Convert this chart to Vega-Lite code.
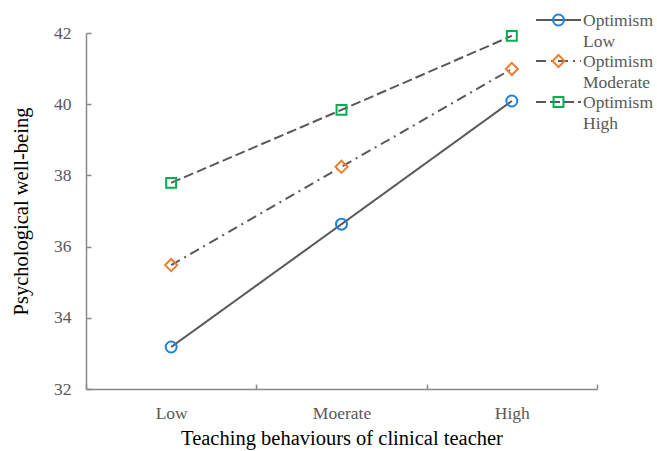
{
  "$schema": "https://vega.github.io/schema/vega-lite/v6.json",
  "width": 511,
  "height": 356,
  "autosize": {"type": "none"},
  "padding": {"left": 86, "top": 33, "right": 60, "bottom": 62},
  "config": {
    "view": {"stroke": null},
    "font": "Liberation Serif",
    "legend": {
      "orient": "none",
      "legendX": 449,
      "legendY": -23,
      "title": null,
      "padding": 0,
      "symbolSize": 2025,
      "symbolStrokeWidth": 2,
      "labelFont": "Liberation Serif",
      "labelFontSize": 17.5,
      "labelOffset": 1,
      "labelBaseline": "top",
      "rowPadding": 0,
      "clipHeight": 20,
      "labelLimit": 400
    }
  },
  "data": {
    "values": [
      {"teach": "Low", "opt": "Optimism Low", "value": 33.18},
      {"teach": "Moerate", "opt": "Optimism Low", "value": 36.63},
      {"teach": "High", "opt": "Optimism Low", "value": 40.09},
      {"teach": "Low", "opt": "Optimism Moderate", "value": 35.48},
      {"teach": "Moerate", "opt": "Optimism Moderate", "value": 38.24},
      {"teach": "High", "opt": "Optimism Moderate", "value": 40.99},
      {"teach": "Low", "opt": "Optimism High", "value": 37.79},
      {"teach": "Moerate", "opt": "Optimism High", "value": 39.84},
      {"teach": "High", "opt": "Optimism High", "value": 41.92}
    ]
  },
  "encoding": {
    "x": {
      "field": "teach",
      "type": "nominal",
      "sort": ["Low", "Moerate", "High"],
      "scale": {"type": "band", "paddingInner": 0, "paddingOuter": 0},
      "axis": {
        "title": "Teaching behaviours of clinical teacher",
        "labelAngle": 0,
        "tickBand": "extent",
        "tickSize": -5,
        "tickColor": "#898989",
        "tickWidth": 1.5,
        "domainColor": "#898989",
        "domainWidth": 1.5,
        "labelPadding": 20,
        "labelFont": "Liberation Serif",
        "labelFontSize": 17.5,
        "labelColor": "#595959",
        "titleFont": "Liberation Serif",
        "titleFontSize": 20.5,
        "titleFontWeight": "normal",
        "titleColor": "#000000",
        "titlePadding": 7
      }
    },
    "y": {
      "field": "value",
      "type": "quantitative",
      "scale": {"domain": [32, 42], "nice": false, "zero": false},
      "axis": {
        "title": "Psychological well-being",
        "values": [32, 34, 36, 38, 40, 42],
        "grid": false,
        "tickSize": -5,
        "tickColor": "#898989",
        "tickWidth": 1.5,
        "domainColor": "#898989",
        "domainWidth": 1.5,
        "labelPadding": 20,
        "labelFont": "Liberation Serif",
        "labelFontSize": 17.5,
        "labelColor": "#595959",
        "titleFont": "Liberation Serif",
        "titleFontSize": 20.5,
        "titleFontWeight": "normal",
        "titleColor": "#000000",
        "titlePadding": 22
      }
    }
  },
  "layer": [
    {
      "mark": {"type": "line", "color": "#595959", "strokeWidth": 2},
      "encoding": {
        "strokeDash": {
          "field": "opt",
          "type": "nominal",
          "sort": ["Optimism Low", "Optimism Moderate", "Optimism High"],
          "scale": {"range": [[1, 0], [10, 5, 2, 5], [10, 4]]},
          "legend": {
            "symbolType": "stroke",
            "symbolStrokeColor": "#595959",
            "labelExpr": "split(datum.label, ' ')",
            "labelColor": "#595959",
            "encode": {
              "labels": {"update": {"dy": {"value": -8}, "lineHeight": {"value": 21}}}
            }
          }
        }
      }
    },
    {
      "mark": {"type": "point", "filled": false, "strokeWidth": 2, "opacity": 1, "size": 2025},
      "encoding": {
        "color": {
          "field": "opt",
          "type": "nominal",
          "scale": {
            "domain": ["Optimism Low", "Optimism Moderate", "Optimism High"],
            "range": ["#1F82DC", "#ED7D31", "#00B050"]
          },
          "legend": {
            "labelExpr": "' '",
            "labelColor": "transparent",
            "labelFontSize": 30.5,
            "symbolFillColor": "transparent",
            "encode": {
              "symbols": {
                "update": {
                  "shape": {"signal": "datum.value === 'Optimism Low' ? 'M-0.244,0A0.244,0.244,0,1,1,0.244,0A0.244,0.244,0,1,1,-0.244,0Z' : datum.value === 'Optimism Moderate' ? 'M0,-0.27L0.27,0L0,0.27L-0.27,0Z' : 'M-0.22,-0.22H0.22V0.22H-0.22Z'"},
                  "fill": {"value": "transparent"}
                }
              }
            }
          }
        },
        "shape": {
          "field": "opt",
          "type": "nominal",
          "scale": {
            "domain": ["Optimism Low", "Optimism Moderate", "Optimism High"],
            "range": [
              "M-0.244,0A0.244,0.244,0,1,1,0.244,0A0.244,0.244,0,1,1,-0.244,0Z",
              "M0,-0.27L0.27,0L0,0.27L-0.27,0Z",
              "M-0.22,-0.22H0.22V0.22H-0.22Z"
            ]
          },
          "legend": null
        }
      }
    }
  ]
}
